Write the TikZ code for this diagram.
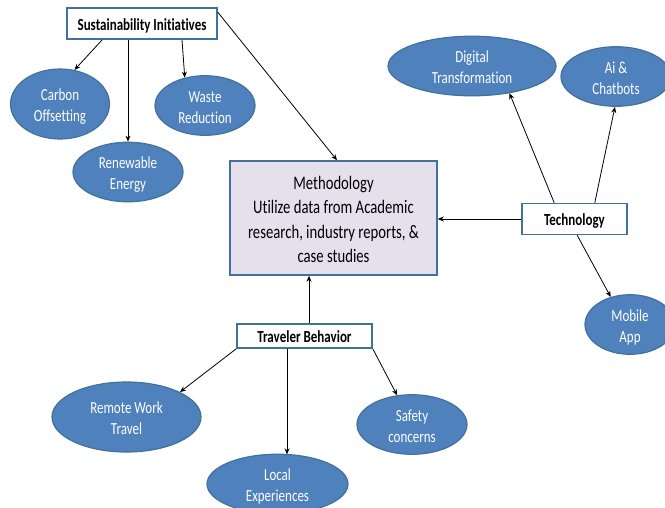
\documentclass[tikz,border=0pt]{standalone}
\usepackage{fontspec}
\setmainfont{Carlito}[Ligatures=NoCommon]
\usepackage{graphicx}
\usetikzlibrary{shapes.geometric,arrows.meta}
\definecolor{ellfill}{HTML}{4F81BD}
\definecolor{ellline}{HTML}{41719C}
\definecolor{boxline}{HTML}{41719C}
\definecolor{methfill}{HTML}{E6E0EC}
\newsavebox{\stbox}
\newcommand{\sttext}[1]{\sbox{\stbox}{\scalebox{1}[1.3]{\begin{tabular}{@{}c@{}}#1\end{tabular}}}%
  \raisebox{-3pt}[\ht\stbox][\dp\stbox]{\usebox{\stbox}}}
\begin{document}
\begin{tikzpicture}[x=1pt,y=-1pt,
  ell/.style={ellipse,draw=ellline,fill=ellfill,line width=1.2pt,inner sep=0pt,
    text=white,align=center,font=\fontsize{13}{16.2}\selectfont},
  catbox/.style={rectangle,draw=boxline,fill=white,line width=1.6pt,inner sep=0pt,
    font=\fontsize{13}{15}\selectfont\bfseries},
  conn/.style={draw=black,line width=0.8pt,-{Stealth[length=6pt,width=5pt]}}]
\clip (0,0) rectangle (665,507);
\fill[white] (0,0) rectangle (665,507);
% category boxes
\node[catbox,minimum width=150pt,minimum height=31pt] (si) at (142,23.5) {\sttext{Sustainability Initiatives}};
\node[catbox,minimum width=105pt,minimum height=31pt] (tech) at (574.5,219) {\sttext{Technology}};
\node[catbox,minimum width=135pt,minimum height=24pt] (tb) at (304.5,336) {\sttext{Traveler Behavior}};
% methodology
\node[rectangle,draw=boxline,fill=methfill,line width=1.6pt,minimum width=207pt,minimum height=114pt,
  inner sep=0pt,align=center,font=\fontsize{14.7}{18.7}\selectfont] (meth) at (333.5,218)
  {\sttext{Methodology\\Utilize data from Academic\\research, industry reports, \&\\case studies}};
% ellipses
\node[ell,minimum width=99pt,minimum height=70pt] (carbon) at (60,104) {\sttext{Carbon\\Offsetting}};
\node[ell,minimum width=110pt,minimum height=50pt] (renew) at (128,172) {\sttext{Renewable\\Energy}};
\node[ell,minimum width=100pt,minimum height=41pt] (waste) at (205,105.5) {\sttext{Waste\\Reduction}};
\node[ell,minimum width=168pt,minimum height=54pt] (digital) at (472,66) {\sttext{Digital\\Transformation}};
\node[ell,minimum width=110pt,minimum height=59pt] (ai) at (616,76.5) {\sttext{Ai \&\\Chatbots}};
\node[ell,minimum width=90pt,minimum height=55pt] (mobile) at (630,324.5) {\sttext{Mobile\\App}};
\node[ell,minimum width=149pt,minimum height=70pt] (remote) at (126.5,417) {\sttext{Remote Work\\Travel}};
\node[ell,minimum width=141pt,minimum height=56pt] (local) at (277.5,484) {\sttext{Local\\Experiences}};
\node[ell,minimum width=110pt,minimum height=55pt] (safety) at (412,424.5) {\sttext{Safety\\concerns}};
% connectors
\draw[conn] ([xshift=36pt]si.south west) -- (carbon.67);
\draw[conn] ([xshift=-14pt]si.south) -- (renew.north);
\draw[conn] ([xshift=40pt]si.south) -- (waste.126);
\draw[conn] ([yshift=-5pt]si.north east) -- ([xshift=3.5pt]meth.north);
\draw[conn] ([xshift=33pt]tech.north west) -- (digital.-36);
\draw[conn] ([xshift=-33pt]tech.north east) -- (ai.-92);
\draw[conn] (tech.west) -- (tech.west -| meth.east);
\draw[conn] ([xshift=56pt]tech.south west) -- (mobile.125);
\draw[conn] ([xshift=4.5pt]tb.north) -- ([xshift=-24.5pt]meth.south);
\draw[conn] (tb.south west) -- (remote.25);
\draw[conn] ([xshift=-17.5pt]tb.south) -- ([xshift=9.5pt,yshift=-0.7pt]local.north);
\draw[conn] (tb.south east) -- (safety.117);
\end{tikzpicture}
\end{document}
